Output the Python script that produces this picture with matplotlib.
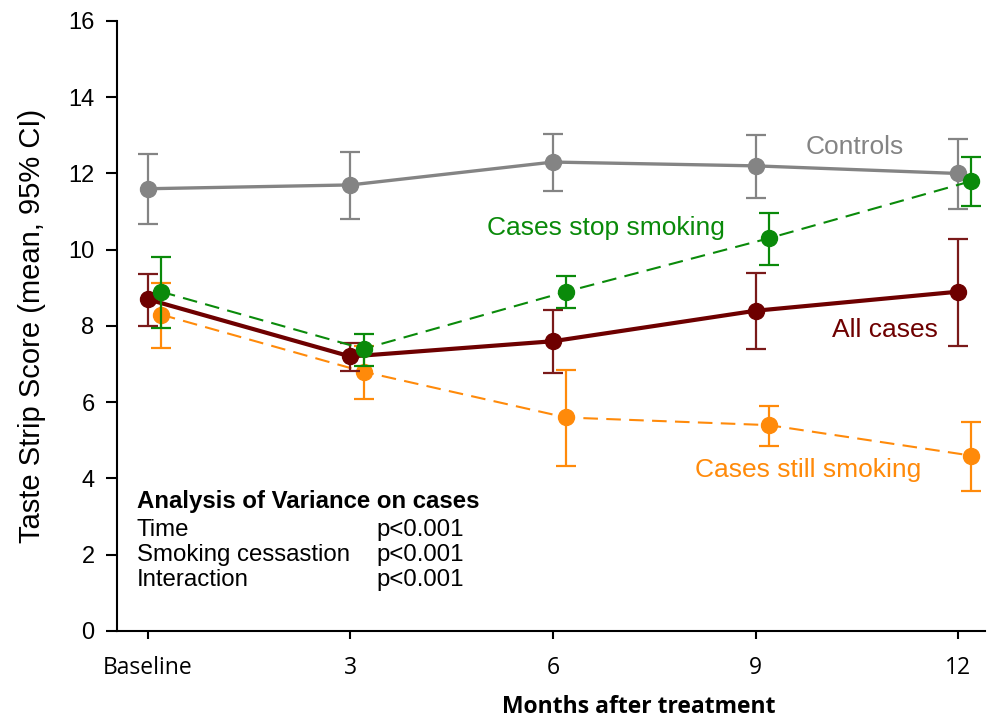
import matplotlib
matplotlib.use('Agg')
import matplotlib.pyplot as plt
import numpy as np

plt.rcParams['font.family'] = ['Liberation Sans', 'DejaVu Sans']

months = ["Baseline", "3", "6", "9", "12"]
shift = 0.065  # green/orange drawn slightly to the right

controls = [11.6, 11.7, 12.3, 12.2, 12.0]
controls_lo = [10.68, 10.81, 11.55, 11.36, 11.08]
controls_hi = [12.52, 12.57, 13.04, 13.02, 12.91]

all_cases = [8.7, 7.2, 7.6, 8.4, 8.9]
all_lo = [8.0, 6.82, 6.77, 7.40, 7.48]
all_hi = [9.37, 7.56, 8.42, 9.40, 10.29]

stop = [8.9, 7.4, 8.9, 10.3, 11.8]
stop_lo = [7.95, 6.96, 8.47, 9.6, 11.14]
stop_hi = [9.81, 7.80, 9.32, 10.97, 12.44]

still = [8.3, 6.8, 5.6, 5.4, 4.6]
still_lo = [7.43, 6.09, 4.33, 4.86, 3.68]
still_hi = [9.13, 7.47, 6.85, 5.91, 5.49]

anova_rows = ["Time", "Smoking cessastion", "Interaction"]
anova_p = ["p<0.001", "p<0.001", "p<0.001"]

GRAY = '#848484'
RED = '#6e0000'
GREEN = '#0a8a0a'
ORANGE = '#ff8a0a'

fig = plt.figure(figsize=(9.9, 7.19), dpi=100)
ax = fig.add_axes([0.118, 0.1224, 0.877, 0.8484])
x = np.arange(len(months))

def series(xs, y, lo, hi, color, ls, lw, ecolor=None, z=2):
    y = np.array(y)
    err = [y - np.array(lo), np.array(hi) - y]
    ax.errorbar(xs, y, yerr=err, fmt='none', ecolor=ecolor or color, elinewidth=1.6,
                capsize=7, capthick=1.6, zorder=z)
    ax.plot(xs, y, color=color, ls=ls, lw=lw, marker='o', ms=11.5, zorder=z + 0.5,
            dashes=(7, 4) if ls == '--' else (None, None))

series(x, controls, controls_lo, controls_hi, GRAY, '-', 2.4, z=2)
series(x + shift, still, still_lo, still_hi, ORANGE, '--', 1.5, z=3)
series(x, all_cases, all_lo, all_hi, RED, '-', 3.0, ecolor='#7a1a1a', z=4)
series(x + shift, stop, stop_lo, stop_hi, GREEN, '--', 1.5, z=5)

ax.set_xlim(-0.153, 4.133)
ax.set_ylim(0, 16)
ax.set_yticks(np.arange(0, 17, 2))
ax.set_xticks(x)
ax.set_xticklabels(months, fontfamily='Open Sans', fontsize=16.5)
ax.tick_params(axis='y', labelsize=17, length=8, width=1.5, pad=8)
ax.tick_params(axis='x', length=6, width=1.5, pad=12)
for s in ['top', 'right']:
    ax.spines[s].set_visible(False)
for s in ['left', 'bottom']:
    ax.spines[s].set_linewidth(1.5)

ax.set_ylabel("Taste Strip Score (mean, 95% CI)", fontsize=21, labelpad=16)
ax.set_xlabel("Months after treatment", fontsize=16.5, fontweight='bold',
              fontfamily='Open Sans', labelpad=11, x=0.601, ha='center')

ax.text(3.49, 12.70, "Controls", color=GRAY, fontsize=19, ha='center', va='center')
ax.text(2.26, 10.58, "Cases stop smoking", color=GREEN, fontsize=19, ha='center', va='center')
ax.text(3.64, 7.90, "All cases", color=RED, fontsize=19, ha='center', va='center')
ax.text(3.26, 4.23, "Cases still smoking", color=ORANGE, fontsize=19, ha='center', va='center')

ax.text(-0.055, 3.39, "Analysis of Variance on cases", fontsize=17.3, fontweight='bold', va='center')
for i, (r, p) in enumerate(zip(anova_rows, anova_p)):
    yy = 2.65 - i * 0.655
    ax.text(-0.055, yy, r, fontsize=17.3, va='center')
    ax.text(1.13, yy, p, fontsize=17.3, va='center')

fig.savefig("out.png", dpi=100)
